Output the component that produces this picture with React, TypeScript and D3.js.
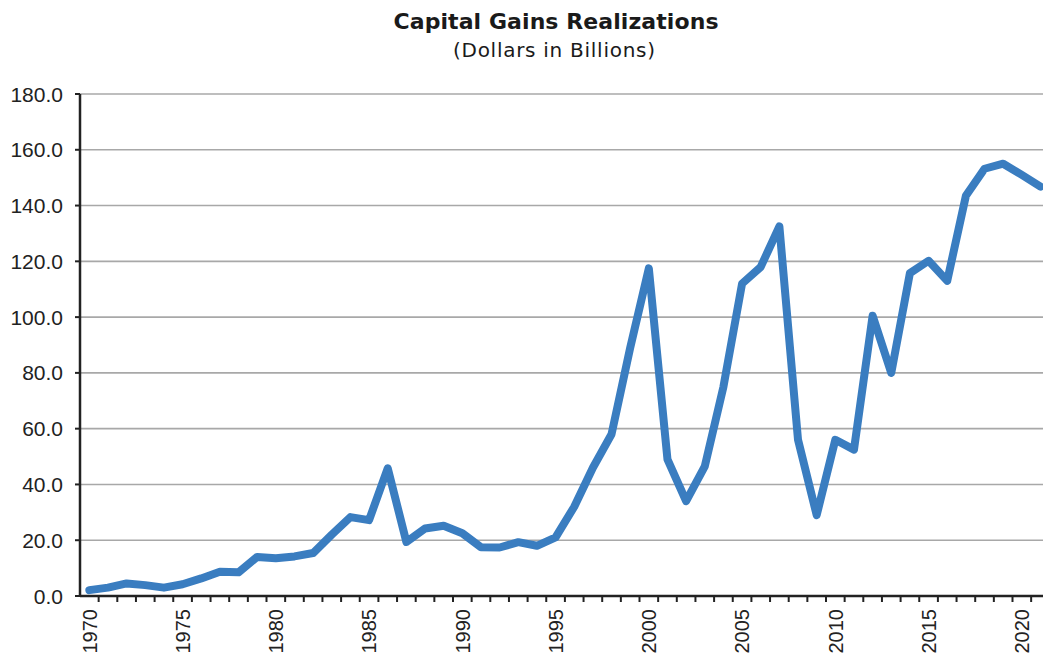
import React from "react";
import * as d3 from "d3";

const years: number[] = d3.range(1970, 2022);
const gains: number[] = [
  2.1, 3, 4.5, 3.9, 3, 4.2, 6.3, 8.7, 8.5, 14,
  13.5, 14.2, 15.4, 22, 28.3, 27.2, 45.8, 19.4, 24.2, 25.2,
  22.5, 17.5, 17.4, 19.3, 18, 21, 32, 46, 58, 89,
  117.5, 49, 34, 46.5, 75, 112, 118, 132.5, 56, 29,
  56, 52.5, 100.5, 80, 115.8, 120.2, 113, 143.5, 153.2, 155,
  151, 146.8,
];
const yTicks: number[] = [0, 20, 40, 60, 80, 100, 120, 140, 160, 180];
const labelYears: number[] = [1970, 1975, 1980, 1985, 1990, 1995, 2000, 2005, 2010, 2015, 2020];
const titleText = "Capital Gains Realizations";
const subtitleText = "(Dollars in Billions)";

export default function App() {
  const W = 1043;
  const H = 657;
  const left = 80;
  const step = 18.65;
  const top = 94;
  const bottom = 596;

  const x = d3
    .scaleBand<number>()
    .domain(years)
    .range([left, left + step * years.length])
    .paddingInner(0)
    .paddingOuter(0);
  const cx = (yr: number) => (x(yr) as number) + x.bandwidth() / 2;
  const y = d3.scaleLinear().domain([0, 180]).range([bottom, top]);

  const line = d3
    .line<number>()
    .x((_, i) => cx(years[i]))
    .y((d) => y(d));

  const fmt = d3.format(".1f");
  const boundaries = years.map((yr) => (x(yr) as number) + x.bandwidth());

  return (
    <svg
      width={W}
      height={H}
      style={{ position: "absolute", left: 0, top: 0, background: "#fff" }}
      fontFamily="'Liberation Sans', Arial, sans-serif"
    >
      <defs>
        <clipPath id="clip">
          <rect x={0} y={0} width={W} height={H} />
        </clipPath>
      </defs>
      <text
        x={556}
        y={29}
        textAnchor="middle"
        fontFamily="'DejaVu Sans', sans-serif"
        fontWeight="bold"
        fontSize={22}
        textLength={325}
        lengthAdjust="spacing"
        fill="#1a1a1a"
      >
        {titleText}
      </text>
      <text
        x={554}
        y={57}
        textAnchor="middle"
        fontFamily="'DejaVu Sans', sans-serif"
        fontSize={20}
        textLength={202}
        lengthAdjust="spacing"
        fill="#1a1a1a"
      >
        {subtitleText}
      </text>

      <g clipPath="url(#clip)">
        {yTicks.map((t) => (
          <line
            key={"g" + t}
            x1={left}
            x2={W + 20}
            y1={y(t)}
            y2={y(t)}
            stroke="#a8a8a8"
            strokeWidth={1.6}
          />
        ))}
        {yTicks.map((t) => (
          <g key={"yt" + t}>
            <line x1={left - 5} x2={left} y1={y(t)} y2={y(t)} stroke="#222" strokeWidth={2} />
            <text
              x={63}
              y={y(t)}
              dy="0.36em"
              textAnchor="end"
              fontSize={21}
              fill="#222"
            >
              {fmt(t)}
            </text>
          </g>
        ))}
        <line x1={left} x2={left} y1={top} y2={bottom} stroke="#222" strokeWidth={2.5} />
        <line x1={left} x2={W + 20} y1={bottom} y2={bottom} stroke="#222" strokeWidth={2.5} />
        {boundaries.map((b, i) => (
          <line key={"xt" + i} x1={b} x2={b} y1={bottom} y2={bottom + 6} stroke="#222" strokeWidth={2} />
        ))}
        {labelYears.map((yr) => (
          <text
            key={"xl" + yr}
            transform={`translate(${cx(yr)},${bottom + 13}) rotate(-90)`}
            textAnchor="end"
            dy="0.36em"
            fontSize={20}
            fill="#222"
          >
            {yr}
          </text>
        ))}
        <path
          d={line(gains) || ""}
          fill="none"
          stroke="#3a7dc0"
          strokeWidth={8}
          strokeLinejoin="round"
          strokeLinecap="round"
        />
      </g>
    </svg>
  );
}
